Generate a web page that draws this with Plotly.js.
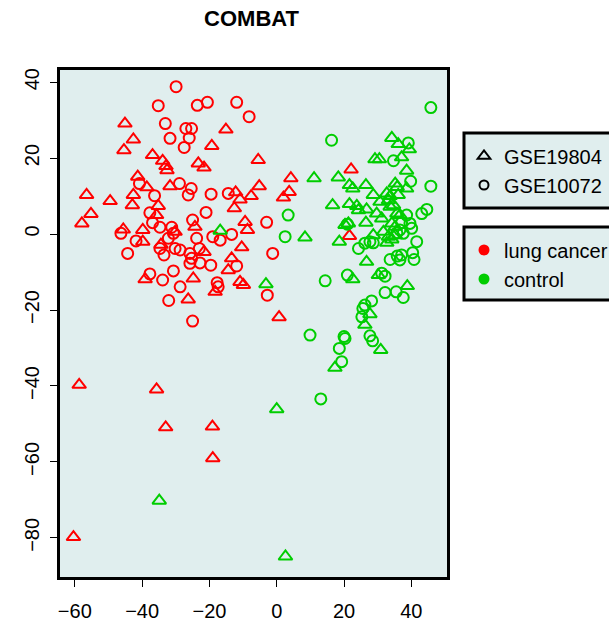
<!DOCTYPE html>
<html>
<head>
<meta charset="utf-8">
<script src="https://cdn.plot.ly/plotly-3.0.1.min.js"></script>
<style>html,body{margin:0;padding:0;background:#fff;}#chart{width:609px;height:625px;}</style>
</head>
<body>
<div id="chart"></div>
<script>
// Lung cancer, GSE19804 (triangles)
const cancerTriX = [-45.1,-42.6,-45.4,-36.9,-33.9,-32.9,-32.6,-23.3,-21.6,-41.3,-38.6,-31.7,-56.5,-49.5,-42.6,-42.9,-55.2,-57.9,-45.6,-39.8,-39.8,-35.2,-35.7,-30.2,-24.3,-34.4,-39.1,-24.8,-26.3,
  -15.1,-19.3,-5.5,4.2,-5.2,3.7,2.0,-12.2,-10.9,-7.6,-12.6,-9.4,-8.7,-21.6,-10.4,-13.4,-14.4,-18.3,-10.9,-9.9,0.7,
  -58.7,-35.7,-33.0,-19.1,-19.0,-60.4,22.1,21.6];
const cancerTriY = [29.1,24.9,22.1,20.8,19.3,17.9,16.8,18.6,17.5,15.1,12.3,12.6,10.3,8.7,10.3,7.6,5.3,2.8,1.2,1.1,-2.0,7.4,5.0,0.6,1.9,-2.8,-11.9,-11.7,-17.2,
  27.5,23.2,19.5,14.7,12.6,11.1,9.6,11.0,9.1,10.0,6.8,3.2,1.1,-4.7,-3.5,-6.4,-9.5,-15.2,-12.6,-13.4,-21.9,
  -39.7,-40.9,-50.9,-50.7,-59.0,-79.8,17.0,-0.5];

// Lung cancer, GSE10072 (circles)
const cancerCircX = [-29.9,-35.2,-23.6,-20.6,-33.1,-27.0,-25.3,-26.0,-31.7,-27.5,-40.8,-28.9,-25.4,-36.3,-26.3,-46.3,-41.8,-37.7,-36.9,-34.7,-31.2,-30.7,-32.2,-34.7,-33.5,-30.2,-28.7,-25.8,-25.3,-25.8,-25.0,-23.8,-44.3,-37.7,-33.9,-30.7,-28.7,-32.1,-25.0,
  -11.9,-8.2,-19.5,-14.4,-21.0,-3.0,-19.0,-16.8,-13.4,-23.0,-22.8,-19.6,-11.9,-1.2,-17.7,-17.4,-2.8];
const cancerCircY = [38.8,33.8,33.9,34.7,29.1,27.8,27.8,25.3,25.2,22.8,13.3,13.3,12.0,10.1,10.3,0.2,-1.8,5.6,3.0,1.8,1.8,0.2,-1.1,-3.8,-5.5,-3.8,-4.2,-5.1,-6.4,-7.7,3.7,-1.1,-5.1,-10.5,-12.1,-9.7,-13.9,-17.5,-22.9,
  34.7,30.9,10.5,10.7,5.7,3.1,-0.7,-1.6,-0.1,-3.8,-7.6,-8.2,-8.4,-5.1,-12.8,-13.9,-16.1];

// Control, GSE19804 (triangles)
const controlTriX = [11.1,-16.8,8.4,-3.2,34.2,36.1,39.4,29.2,30.5,37.1,38.6,18.3,21.6,22.6,26.5,35.2,35.8,38.6,28.7,32.7,33.7,36.1,16.6,21.6,23.8,24.3,26.7,30.7,33.2,33.7,34.7,29.7,31.2,35.7,36.6,26.5,20.3,21.3,34.2,35.2,18.6,28.7,31.7,33.2,32.7,34.2,35.2,26.7,22.6,30.2,38.8,27.7,26.2,30.9,17.3,0.0,-34.9,2.6];
const controlTriY = [14.7,0.9,-0.9,-13.2,25.3,23.7,22.3,19.7,19.7,20.2,16.7,14.9,12.9,12.0,12.9,13.3,12.4,12.0,10.3,10.7,10.0,10.3,7.6,7.9,7.4,6.3,6.5,8.5,8.9,7.2,7.6,5.4,4.1,5.4,5.0,3.0,2.4,2.8,2.8,1.9,-2.0,-0.3,0.6,-0.7,-2.3,-1.4,-0.3,-7.3,-11.9,-10.8,-13.7,-21.1,-23.9,-30.5,-35.2,-46.1,-70.2,-84.9];

// Control, GSE10072 (circles)
const controlCircX = [45.8,16.3,39.1,34.7,39.8,45.8,3.4,2.5,38.6,43.1,44.6,21.0,37.1,39.6,40.1,35.7,36.6,37.6,24.3,26.2,27.7,28.7,33.7,35.8,36.6,37.1,40.4,41.6,40.8,14.4,21.0,31.2,32.2,32.2,35.5,37.6,28.2,26.2,25.6,25.3,9.9,20.0,20.3,27.7,28.5,18.6,19.3,13.1];
const controlCircY = [33.3,24.7,24.0,19.3,13.9,12.6,5.0,-0.7,5.0,5.4,6.5,2.6,3.0,2.8,1.5,0.3,1.1,0.2,-3.8,-2.4,-2.0,-2.3,-6.7,-5.8,-6.8,-5.5,-4.9,-2.0,-6.7,-12.3,-10.8,-10.3,-11.1,-15.4,-15.2,-16.7,-17.6,-18.7,-19.6,-21.8,-26.6,-27.0,-27.5,-26.8,-28.1,-30.1,-33.6,-43.4];

const xTicks = [-60,-40,-20,0,20,40];
const yTicks = [-80,-60,-40,-20,0,20,40];
const xTickText = ['\u221260','\u221240','\u221220','0','20','40'];
const yTickText = ['\u221280','\u221260','\u221240','\u221220','0','20','40'];

const RED = '#FF0000', GREEN = '#00CD00', BG = '#E0EEEE';
const triMarker = c => ({symbol:'triangle-up-open', size:12, color:c, line:{color:c, width:2}});
const circMarker = c => ({symbol:'circle-open', size:11, color:c, line:{color:c, width:2}});

const traces = [
  {x:cancerTriX, y:cancerTriY, type:'scatter', mode:'markers', marker:triMarker(RED), showlegend:false, hoverinfo:'x+y'},
  {x:cancerCircX, y:cancerCircY, type:'scatter', mode:'markers', marker:circMarker(RED), showlegend:false, hoverinfo:'x+y'},
  {x:controlTriX, y:controlTriY, type:'scatter', mode:'markers', marker:triMarker(GREEN), showlegend:false, hoverinfo:'x+y'},
  {x:controlCircX, y:controlCircY, type:'scatter', mode:'markers', marker:circMarker(GREEN), showlegend:false, hoverinfo:'x+y'},
  // legend-only entries
  {x:[null], y:[null], type:'scatter', mode:'markers', name:'GSE19804', legend:'legend', marker:{symbol:'triangle-up-open', size:11, color:'#000', line:{color:'#000', width:2}}},
  {x:[null], y:[null], type:'scatter', mode:'markers', name:'GSE10072', legend:'legend', marker:{symbol:'circle-open', size:9, color:'#000', line:{color:'#000', width:2}}},
  {x:[null], y:[null], type:'scatter', mode:'markers', name:'lung cancer', legend:'legend2', marker:{symbol:'circle', size:11, color:RED}},
  {x:[null], y:[null], type:'scatter', mode:'markers', name:'control', legend:'legend2', marker:{symbol:'circle', size:11, color:GREEN}}
];

const FONT = 'Liberation Sans, Arial, sans-serif';
const legendCommon = {
  xref:'container', yref:'container', xanchor:'left', yanchor:'middle',
  bgcolor:'rgba(0,0,0,0)', borderwidth:0,
  font:{family:FONT, size:20, color:'#000'}, traceorder:'normal'
};

// legend frames (R-style boxes, running past the right edge)
const boxShape = (y0, y1) => ({type:'rect', xref:'paper', yref:'paper', x0:(464-60)/387, x1:(620-60)/387, y0:(577-y1)/507, y1:(577-y0)/507,
  line:{color:'#000', width:3}, fillcolor:BG, layer:'below'});

const layout = {
  width:609, height:625,
  margin:{l:60, r:162, t:70, b:48},
  paper_bgcolor:'#FFFFFF', plot_bgcolor:BG,
  font:{family:FONT, size:20, color:'#000'},
  title:{text:'<b>COMBAT</b>', font:{family:FONT, size:22, color:'#000'}, xref:'paper', x:0.495, xanchor:'center', yref:'container', y:1-18/625, yanchor:'middle'},
  xaxis:{range:[-64.4,50.6], tickvals:xTicks, ticktext:xTickText, ticks:'outside', ticklen:7, tickwidth:1, tickcolor:'#000',
    showline:true, linewidth:3, linecolor:'#000', mirror:true, showgrid:false, zeroline:false, ticklabelstandoff:7,
    tickfont:{family:FONT, size:20, color:'#000'}},
  yaxis:{range:[-90.3,43.2], tickvals:yTicks, ticktext:yTickText, ticks:'outside', ticklen:7, tickwidth:1, tickcolor:'#000',
    showline:true, linewidth:3, linecolor:'#000', mirror:true, showgrid:false, zeroline:false, tickangle:-90, ticklabelstandoff:3,
    tickfont:{family:FONT, size:20, color:'#000'}},
  shapes:[boxShape(133,208), boxShape(227,300)],
  legend:Object.assign({}, legendCommon, {x:464/609, y:1-170.5/625}),
  legend2:Object.assign({}, legendCommon, {x:464/609, y:1-264.5/625}),
  showlegend:true
};

Plotly.newPlot('chart', traces, layout, {staticPlot:true, displayModeBar:false});
</script>
</body>
</html>
